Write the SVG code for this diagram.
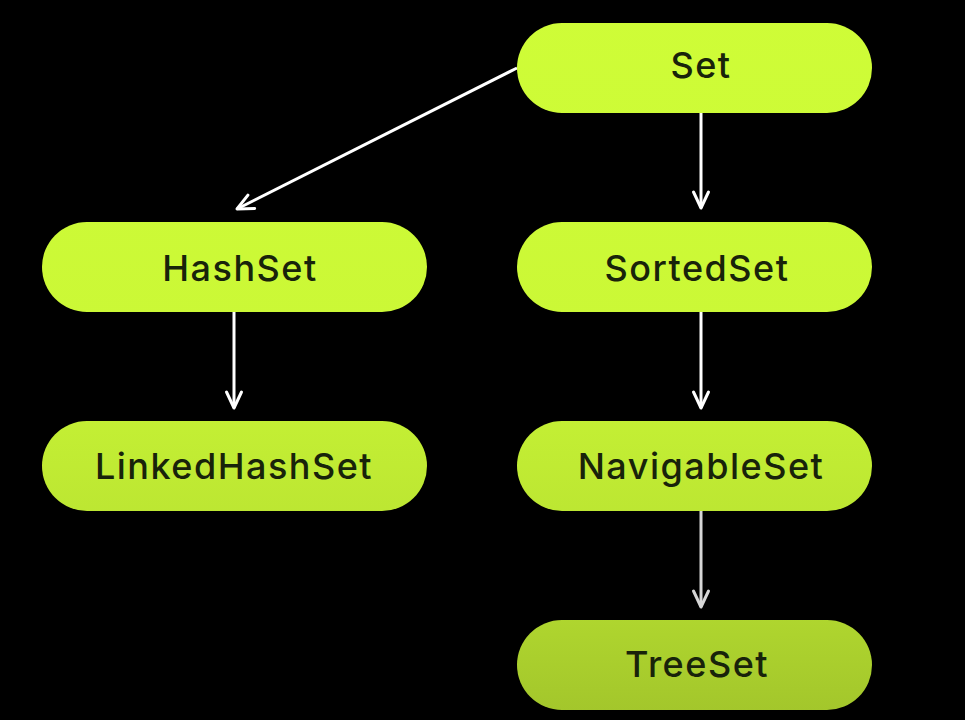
<svg xmlns="http://www.w3.org/2000/svg" width="965" height="720" viewBox="0 0 965 720">
  <defs>
    <linearGradient id="lime" gradientUnits="userSpaceOnUse" x1="0" y1="0" x2="0" y2="720">
      <stop offset="0" stop-color="#CFFD37"/>
      <stop offset="0.45" stop-color="#CBF836"/>
      <stop offset="0.72" stop-color="#BCE632"/>
      <stop offset="1" stop-color="#A2C52B"/>
    </linearGradient>
    <marker id="arrow" viewBox="0 0 20 20" refX="18" refY="10" markerWidth="20" markerHeight="20" markerUnits="userSpaceOnUse" orient="auto">
      <path d="M2,2 L18,10 L2,18" fill="none" stroke="context-stroke" stroke-width="3" stroke-linecap="round" stroke-linejoin="round"/>
    </marker>
    <marker id="arrowW" viewBox="0 0 20 20" refX="18" refY="10" markerWidth="20" markerHeight="20" markerUnits="userSpaceOnUse" orient="auto">
      <path d="M2,2.5 L18,10 L2,17.5" fill="none" stroke="#FFFFFF" stroke-width="3" stroke-linecap="round" stroke-linejoin="round"/>
    </marker>
    <marker id="arrowG" viewBox="0 0 20 20" refX="18" refY="10" markerWidth="20" markerHeight="20" markerUnits="userSpaceOnUse" orient="auto">
      <path d="M2,2.5 L18,10 L2,17.5" fill="none" stroke="#D6D6D6" stroke-width="3" stroke-linecap="round" stroke-linejoin="round"/>
    </marker>
  </defs>
  <style>
    .node rect { fill: url(#lime); }
    .node text { font-family: Inter, "Noto Sans", sans-serif; font-size: 36px; font-weight: 500; fill: #18230A; text-anchor: middle; letter-spacing: 1.5px; }
    .edge { fill: none; stroke: #FFFFFF; stroke-width: 3; marker-end: url(#arrowW); }
    .edge.gray { stroke: #D6D6D6; marker-end: url(#arrowG); }
  </style>
  <rect x="0" y="0" width="965" height="720" fill="#000000"/>

  <g id="connectors">
    <line class="edge" x1="517" y1="68" x2="237" y2="209"/>
    <line class="edge" x1="701" y1="113" x2="701" y2="208"/>
    <line class="edge" x1="234" y1="312" x2="234" y2="408"/>
    <line class="edge" x1="701" y1="312" x2="701" y2="408"/>
    <line class="edge gray" x1="701" y1="511" x2="701" y2="607"/>
  </g>

  <g id="node-set" class="node">
    <rect x="517" y="23" width="355" height="90" rx="45"/>
    <text x="701" y="78">Set</text>
  </g>
  <g id="node-hashset" class="node">
    <rect x="42" y="222" width="385" height="90" rx="45"/>
    <text x="240" y="281">HashSet</text>
  </g>
  <g id="node-sortedset" class="node">
    <rect x="517" y="222" width="355" height="90" rx="45"/>
    <text x="697" y="281">SortedSet</text>
  </g>
  <g id="node-linkedhashset" class="node">
    <rect x="42" y="421" width="385" height="90" rx="45"/>
    <text x="234" y="479">LinkedHashSet</text>
  </g>
  <g id="node-navigableset" class="node">
    <rect x="517" y="421" width="355" height="90" rx="45"/>
    <text x="701" y="479">NavigableSet</text>
  </g>
  <g id="node-treeset" class="node">
    <rect x="517" y="620" width="355" height="90" rx="45"/>
    <text x="697" y="677">TreeSet</text>
  </g>
</svg>
